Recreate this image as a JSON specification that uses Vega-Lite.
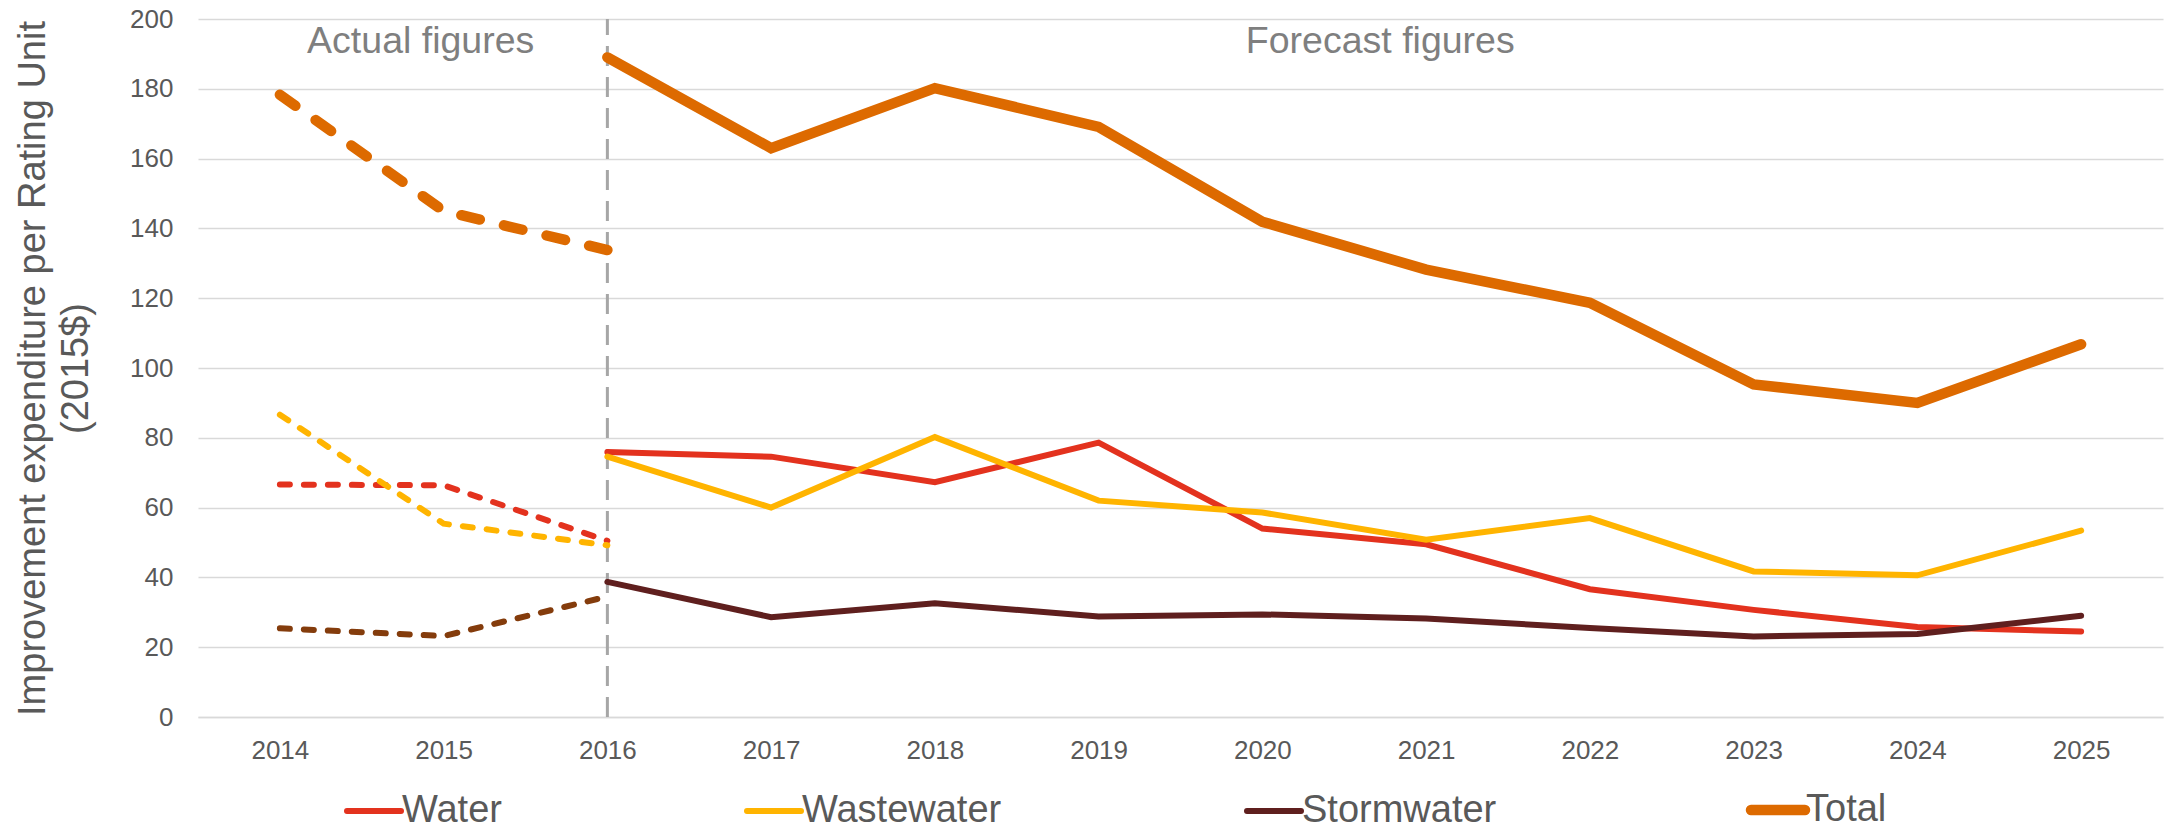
{
  "$schema": "https://vega.github.io/schema/vega-lite/v6.json",
  "width": 1965,
  "height": 698,
  "autosize": {"type": "none"},
  "padding": {"left": 198, "top": 19, "right": 7, "bottom": 114},
  "background": "white",
  "config": {
    "view": {"stroke": null},
    "font": "Liberation Sans",
    "axis": {"labelFont": "Liberation Sans", "titleFont": "Liberation Sans"}
  },
  "datasets": {
    "series": [
      {"series": "Water", "phase": "Actual", "year": 2014, "value": 66.6},
      {"series": "Water", "phase": "Actual", "year": 2015, "value": 66.4},
      {"series": "Water", "phase": "Actual", "year": 2016, "value": 50.5},
      {"series": "Water", "phase": "Forecast", "year": 2016, "value": 75.9},
      {"series": "Water", "phase": "Forecast", "year": 2017, "value": 74.6},
      {"series": "Water", "phase": "Forecast", "year": 2018, "value": 67.3},
      {"series": "Water", "phase": "Forecast", "year": 2019, "value": 78.6},
      {"series": "Water", "phase": "Forecast", "year": 2020, "value": 54.0},
      {"series": "Water", "phase": "Forecast", "year": 2021, "value": 49.5},
      {"series": "Water", "phase": "Forecast", "year": 2022, "value": 36.6},
      {"series": "Water", "phase": "Forecast", "year": 2023, "value": 30.7},
      {"series": "Water", "phase": "Forecast", "year": 2024, "value": 25.8},
      {"series": "Water", "phase": "Forecast", "year": 2025, "value": 24.5},
      {"series": "Wastewater", "phase": "Actual", "year": 2014, "value": 86.6},
      {"series": "Wastewater", "phase": "Actual", "year": 2015, "value": 55.4},
      {"series": "Wastewater", "phase": "Actual", "year": 2016, "value": 49.2},
      {"series": "Wastewater", "phase": "Forecast", "year": 2016, "value": 74.6},
      {"series": "Wastewater", "phase": "Forecast", "year": 2017, "value": 60.0},
      {"series": "Wastewater", "phase": "Forecast", "year": 2018, "value": 80.2},
      {"series": "Wastewater", "phase": "Forecast", "year": 2019, "value": 62.0},
      {"series": "Wastewater", "phase": "Forecast", "year": 2020, "value": 58.6},
      {"series": "Wastewater", "phase": "Forecast", "year": 2021, "value": 50.8},
      {"series": "Wastewater", "phase": "Forecast", "year": 2022, "value": 57.0},
      {"series": "Wastewater", "phase": "Forecast", "year": 2023, "value": 41.7},
      {"series": "Wastewater", "phase": "Forecast", "year": 2024, "value": 40.6},
      {"series": "Wastewater", "phase": "Forecast", "year": 2025, "value": 53.4},
      {"series": "Stormwater", "phase": "Actual", "year": 2014, "value": 25.4},
      {"series": "Stormwater", "phase": "Actual", "year": 2015, "value": 23.2},
      {"series": "Stormwater", "phase": "Actual", "year": 2016, "value": 34.5},
      {"series": "Stormwater", "phase": "Forecast", "year": 2016, "value": 38.7},
      {"series": "Stormwater", "phase": "Forecast", "year": 2017, "value": 28.6},
      {"series": "Stormwater", "phase": "Forecast", "year": 2018, "value": 32.6},
      {"series": "Stormwater", "phase": "Forecast", "year": 2019, "value": 28.8},
      {"series": "Stormwater", "phase": "Forecast", "year": 2020, "value": 29.4},
      {"series": "Stormwater", "phase": "Forecast", "year": 2021, "value": 28.2},
      {"series": "Stormwater", "phase": "Forecast", "year": 2022, "value": 25.5},
      {"series": "Stormwater", "phase": "Forecast", "year": 2023, "value": 23.1},
      {"series": "Stormwater", "phase": "Forecast", "year": 2024, "value": 23.8},
      {"series": "Stormwater", "phase": "Forecast", "year": 2025, "value": 29.0},
      {"series": "Total", "phase": "Actual", "year": 2014, "value": 178.3},
      {"series": "Total", "phase": "Actual", "year": 2015, "value": 145.0},
      {"series": "Total", "phase": "Actual", "year": 2016, "value": 133.8},
      {"series": "Total", "phase": "Forecast", "year": 2016, "value": 189.0},
      {"series": "Total", "phase": "Forecast", "year": 2017, "value": 163.0},
      {"series": "Total", "phase": "Forecast", "year": 2018, "value": 180.2},
      {"series": "Total", "phase": "Forecast", "year": 2019, "value": 169.1},
      {"series": "Total", "phase": "Forecast", "year": 2020, "value": 141.9},
      {"series": "Total", "phase": "Forecast", "year": 2021, "value": 128.2},
      {"series": "Total", "phase": "Forecast", "year": 2022, "value": 118.7},
      {"series": "Total", "phase": "Forecast", "year": 2023, "value": 95.3},
      {"series": "Total", "phase": "Forecast", "year": 2024, "value": 90.0},
      {"series": "Total", "phase": "Forecast", "year": 2025, "value": 106.8}
    ]
  },
  "encoding": {
    "x": {
      "field": "year",
      "type": "quantitative",
      "scale": {"domain": [2013.5, 2025.5], "nice": false, "zero": false},
      "axis": {
        "title": null,
        "values": [2014, 2015, 2016, 2017, 2018, 2019, 2020, 2021, 2022, 2023, 2024, 2025],
        "format": "d",
        "grid": false,
        "ticks": false,
        "tickSize": 0,
        "domain": true,
        "domainColor": "#D9D9D9",
        "domainWidth": 1.5,
        "labelFontSize": 26,
        "labelColor": "#595959",
        "labelPadding": 20
      }
    },
    "y": {
      "field": "value",
      "type": "quantitative",
      "scale": {"domain": [0, 200], "nice": false},
      "axis": {
        "title": ["Improvement expenditure per Rating Unit", "(2015$)"],
        "titleFontSize": 38,
        "titleFontWeight": "normal",
        "titleColor": "#595959",
        "titleAngle": -90,
        "titleAlign": "center",
        "titleBaseline": "alphabetic",
        "titleLineHeight": 43,
        "titleX": -154,
        "titleY": 349,
        "values": [0, 20, 40, 60, 80, 100, 120, 140, 160, 180, 200],
        "grid": true,
        "gridColor": "#D9D9D9",
        "gridWidth": 1.5,
        "domain": false,
        "ticks": false,
        "tickSize": 0,
        "labelFontSize": 26,
        "labelColor": "#595959",
        "labelPadding": 25
      }
    }
  },
  "layer": [
    {
      "data": {"values": [{"year": 2016, "lo": 0, "hi": 200}]},
      "mark": {"type": "rule", "color": "#A6A6A6", "strokeWidth": 3, "strokeDash": [20, 11]},
      "encoding": {
        "x": {"field": "year", "type": "quantitative"},
        "y": {"field": "lo", "type": "quantitative"},
        "y2": {"field": "hi"}
      }
    },
    {
      "data": {"name": "series"},
      "transform": [{"filter": "datum.phase === 'Forecast' && datum.series !== 'Total'"}],
      "mark": {"type": "line", "strokeWidth": 6, "strokeCap": "round"},
      "encoding": {
        "color": {
          "field": "series",
          "type": "nominal",
          "scale": {"domain": ["Water", "Wastewater", "Stormwater", "Total"], "range": ["#E3321E", "#FFB400", "#5F1F1E", "#DD6A00"]},
          "legend": {
            "title": null,
            "orient": "none",
            "legendX": 157,
            "legendY": 772,
            "direction": "horizontal",
            "padding": 0,
            "symbolType": "stroke",
            "symbolSize": 2916,
            "symbolStrokeWidth": 6,
            "labelFontSize": 38,
            "labelColor": "#595959",
            "labelFont": "Liberation Sans",
            "labelOffset": 9,
            "columnPadding": 233,
            "labelLimit": 400,
            "encode": {
              "symbols": {
                "update": {
                  "strokeWidth": {"signal": "datum.value === 'Total' ? 10.5 : 6"},
                  "strokeCap": {"value": "round"}
                }
              }
            }
          }
        }
      }
    },
    {
      "data": {"name": "series"},
      "transform": [{"filter": "datum.phase === 'Actual' && (datum.series === 'Water' || datum.series === 'Wastewater')"}],
      "mark": {"type": "line", "strokeWidth": 6, "strokeDash": [10, 14], "strokeCap": "round"},
      "encoding": {
        "color": {"field": "series", "type": "nominal"},
        "detail": {"field": "series"}
      }
    },
    {
      "data": {"name": "series"},
      "transform": [{"filter": "datum.phase === 'Actual' && datum.series === 'Stormwater'"}],
      "mark": {"type": "line", "strokeWidth": 6, "strokeDash": [10, 14], "strokeCap": "round", "color": "#843C0C"},
      "encoding": {}
    },
    {
      "data": {"name": "series"},
      "transform": [{"filter": "datum.series === 'Total' && datum.phase === 'Actual'"}],
      "mark": {"type": "line", "strokeWidth": 10.5, "strokeDash": [19, 24.8], "strokeCap": "round", "color": "#DD6A00"},
      "encoding": {}
    },
    {
      "data": {"name": "series"},
      "transform": [{"filter": "datum.series === 'Total' && datum.phase === 'Forecast'"}],
      "mark": {"type": "line", "strokeWidth": 10.5, "strokeCap": "round", "color": "#DD6A00"},
      "encoding": {}
    },
    {
      "data": {"values": [{"label": "Actual figures", "year": 2014.86, "value": 190.3}, {"label": "Forecast figures", "year": 2020.72, "value": 190.3}]},
      "mark": {"type": "text", "fontSize": 37.5, "color": "#7F7F7F", "align": "center", "baseline": "alphabetic", "font": "Liberation Sans"},
      "encoding": {"text": {"field": "label"}}
    }
  ]
}
